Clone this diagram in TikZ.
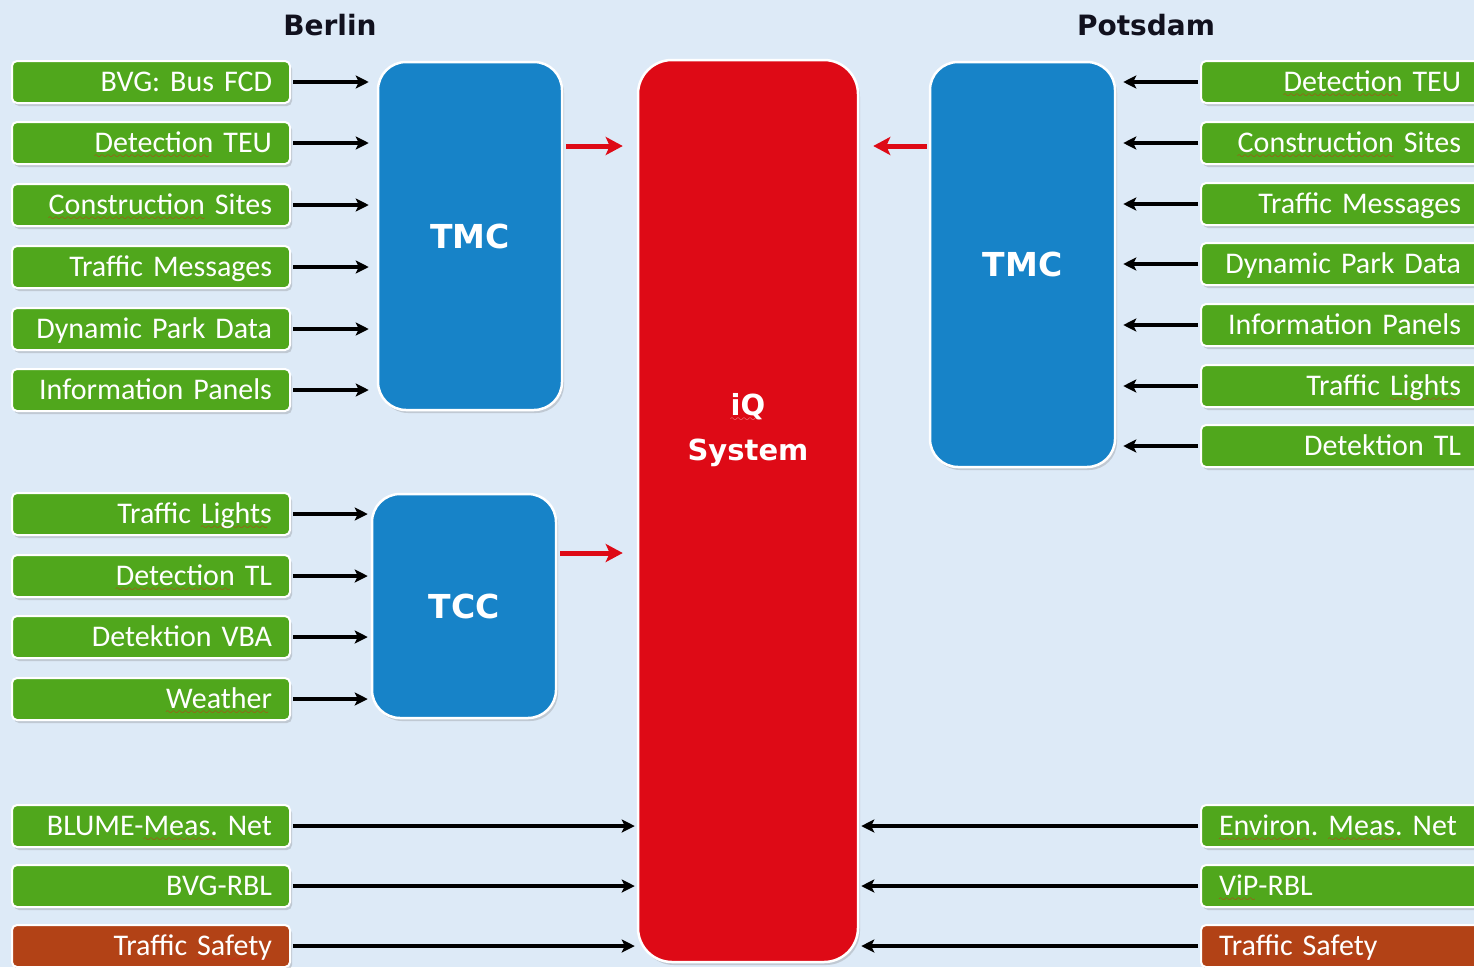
\documentclass[tikz,border=0pt]{standalone}
\usepackage{fontspec}
\setmainfont{Carlito}
\newfontfamily\headfont{DejaVu Sans}
\usetikzlibrary{shadows,arrows.meta}

\definecolor{bgblue}{RGB}{221,234,247}
\definecolor{grn}{RGB}{80,167,28}
\definecolor{brn}{RGB}{178,66,22}
\definecolor{tmcblue}{RGB}{23,131,200}
\definecolor{iqred}{RGB}{222,10,22}
\definecolor{headtxt}{RGB}{17,17,30}
\definecolor{squig}{RGB}{230,20,20}

\frenchspacing
% wavy underline for single words
\font\wavefont=lasy10 at 9pt
\newsavebox\wordbox
\newcommand\sqc[2]{\sbox\wordbox{#2}%
  \rlap{\textcolor{#1}{\raisebox{-6pt}{\leaders\hbox{\wavefont\char58}\hskip\wd\wordbox}}}%
  \usebox\wordbox}
\newcommand\sq[1]{\sqc{squig}{#1}}

\tikzset{
  shade/.style={drop shadow={opacity=0.3, shadow xshift=2pt, shadow yshift=-3pt}},
  src/.style={draw=white, line width=2pt, rounded corners=5pt, shade,
    minimum height=42pt, inner ysep=0pt, inner xsep=18pt,
    text height=24pt, text depth=6pt, text=white,
    font=\fontsize{30}{34}\selectfont, text width=242pt},
  srcL/.style={src, fill=grn, align=right},
  srcR/.style={src, fill=grn, align=right},
  srcRl/.style={src, fill=grn, align=left, text width=270pt},
  hub/.style={draw=white, line width=2.5pt, rounded corners=28pt, shade,
    fill=tmcblue, text=white, font=\headfont\bfseries\fontsize{33}{36}\selectfont},
  head/.style={text=headtxt, font=\headfont\bfseries\fontsize{28}{32}\selectfont},
  blk/.style={line width=3.5pt, black, -{Stealth[length=13pt, width=13pt, inset=3pt]}},
  redarr/.style={line width=5pt, iqred, -{Stealth[length=17pt, width=18pt, inset=4pt]}},
}

\begin{document}
\begin{tikzpicture}[x=1pt, y=-1pt]
\useasboundingbox (0,0) rectangle (1474,967);
\clip (0,0) rectangle (1474,967);
\fill[bgblue] (0,0) rectangle (1474,967);

% headings
\node[head] (hBerlin) at (330,25) {Berlin};
\node[head] (hPotsdam) at (1146,25) {Potsdam};

% central system
\node[hub, fill=iqred, rounded corners=34pt, minimum width=220pt, minimum height=902pt] (iq) at (748,511) {};
\node[text=white, align=center, font=\headfont\bfseries\fontsize{29}{45}\selectfont] (iqlabel) at (748,430) {\sqc{white!75!red}{iQ}\\System};

% control centres
\node[hub, minimum width=184pt, minimum height=348pt] (tmcB) at (470,236) {TMC};
\node[hub, minimum width=184pt, minimum height=224pt] (tcc) at (464,606) {TCC};
\node[hub, minimum width=185pt, minimum height=405pt] (tmcP) at (1022.5,264.5) {TMC};

% Berlin sources
\node[srcL] (L1) at (151,82) {BVG: Bus FCD};
\node[srcL] (L2) at (151,143) {\sq{Detection} TEU};
\node[srcL] (L3) at (151,205) {\sq{Construction} Sites};
\node[srcL] (L4) at (151,267) {Traffic Messages};
\node[srcL] (L5) at (151,329) {Dynamic Park Data};
\node[srcL] (L6) at (151,390) {Information Panels};
\node[srcL] (L7) at (151,514) {Traffic \sq{Lights}};
\node[srcL] (L8) at (151,576) {\sq{Detection} TL};
\node[srcL] (L9) at (151,637) {Detektion VBA};
\node[srcL] (L10) at (151,699) {\sq{Weather}};
\node[srcL] (L11) at (151,826) {BLUME-\sq{Meas.} Net};
\node[srcL] (L12) at (151,886) {BVG-RBL};
\node[srcL, fill=brn] (L13) at (151,946) {Traffic \sq{Safety}};

% Potsdam sources
\node[srcR] (R1) at (1340,82) {\sq{Detection} TEU};
\node[srcR] (R2) at (1340,143) {\sq{Construction} Sites};
\node[srcR] (R3) at (1340,204) {Traffic Messages};
\node[srcR] (R4) at (1340,264) {Dynamic Park Data};
\node[srcR] (R5) at (1340,325) {Information Panels};
\node[srcR] (R6) at (1340,386) {Traffic \sq{Lights}};
\node[srcR] (R7) at (1340,446) {Detektion TL};
\node[srcRl] (R8) at (1354,826) {\sq{Environ}. \sq{Meas.} Net};
\node[srcRl] (R9) at (1354,886) {\sq{ViP}-RBL};
\node[srcRl, fill=brn] (R10) at (1354,946) {Traffic \sq{Safety}};

% feeds into the Berlin centres
\foreach \s in {L1,L2,L3,L4,L5,L6}
  \draw[blk, shorten <=2pt, shorten >=8pt] (\s.east) -- (\s.east -| tmcB.west);
\foreach \s in {L7,L8,L9,L10}
  \draw[blk, shorten <=2pt, shorten >=3pt] (\s.east) -- (\s.east -| tcc.west);
% feeds into the Potsdam centre
\foreach \s in {R1,R2,R3,R4,R5,R6,R7}
  \draw[blk, shorten <=2pt, shorten >=7pt] (\s.west) -- (\s.west -| tmcP.east);
% direct feeds into the system
\foreach \s in {L11,L12,L13}
  \draw[blk, shorten <=2pt, shorten >=2pt] (\s.east) -- (\s.east -| iq.west);
\foreach \s in {R8,R9,R10}
  \draw[blk, shorten <=2pt, shorten >=2pt] (\s.west) -- (\s.west -| iq.east);

% centre outputs
\coordinate (yTop) at (0,146);
\coordinate (yTcc) at (0,553);
\draw[redarr, shorten <=3pt, shorten >=14pt] (tmcB.east |- yTop) -- (iq.west |- yTop);
\draw[redarr, shorten <=3pt, shorten >=14pt] (tcc.east |- yTcc) -- (iq.west |- yTcc);
\draw[redarr, shorten <=2pt, shorten >=14pt] (tmcP.west |- yTop) -- (iq.east |- yTop);
\end{tikzpicture}
\end{document}
